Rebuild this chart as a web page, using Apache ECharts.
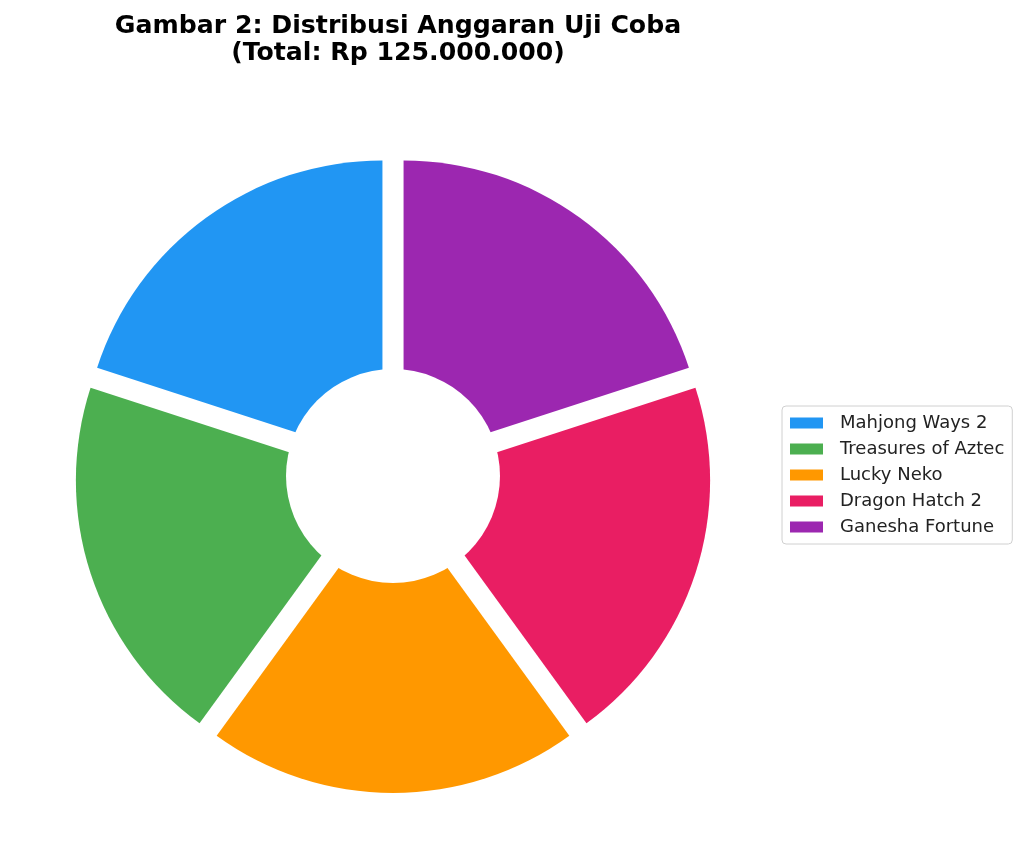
<!DOCTYPE html>
<html>
<head>
<meta charset="utf-8">
<script src="https://cdn.jsdelivr.net/npm/echarts@6/dist/echarts.min.js"></script>
<style>
  html, body { margin: 0; padding: 0; background: #fff; }
  #chart { width: 1024px; height: 868px; }
</style>
</head>
<body>
<div id="chart"></div>
<script>
// data
const games = ["Mahjong Ways 2", "Treasures of Aztec", "Lucky Neko", "Dragon Hatch 2", "Ganesha Fortune"]
const budget = [25000000, 25000000, 25000000, 25000000, 25000000]
const colors = ["#2196F3", "#4CAF50", "#FF9800", "#E91E63", "#9C27B0"]

const chart = echarts.init(document.getElementById("chart"))

const option = {
  animation: false,
  title: {
    text: "Gambar 2: Distribusi Anggaran Uji Coba\n(Total: Rp 125.000.000)",
    left: 393,
    top: 8,
    textAlign: "center",
    textStyle: {
      fontFamily: "DejaVu Sans",
      fontSize: 25.2,
      fontWeight: "bold",
      color: "#000",
      lineHeight: 27,
    },
  },
  legend: {
    orient: "vertical",
    left: 782,
    top: 406,
    padding: [8, 8, 8, 8],
    itemWidth: 33,
    itemHeight: 11,
    itemGap: 8,
    icon: "rect",
    borderColor: "#d0d0d0",
    borderWidth: 1,
    borderRadius: 4,
    textStyle: {
      fontFamily: "DejaVu Sans",
      fontSize: 18,
      color: "#222",
      lineHeight: 18,
      padding: [0, 0, 0, 12],
    },
    selectedMode: false,
    data: games,
  },
  series: [
    {
      type: "pie",
      center: [393, 475],
      radius: [0, 300],
      startAngle: 90,
      clockwise: false,
      selectedMode: "multiple",
      selectedOffset: 18,
      label: { show: false },
      labelLine: { show: false },
      emphasis: { disabled: true },
      data: games.map((name, i) => ({
        name: name,
        value: budget[i],
        selected: true,
        itemStyle: { color: colors[i] },
      })),
    },
  ],
  graphic: [
    {
      type: "circle",
      shape: { cx: 393, cy: 476, r: 107 },
      style: { fill: "#fff" },
      z: 100,
    },
  ],
}

chart.setOption(option)
</script>
</body>
</html>
